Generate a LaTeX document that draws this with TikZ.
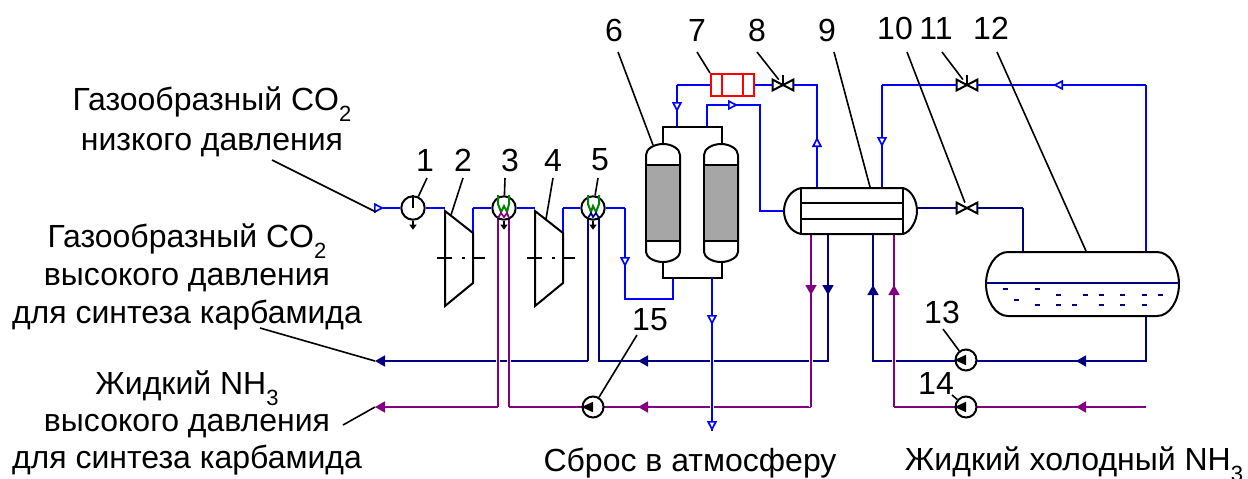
\documentclass[tikz,border=0pt]{standalone}
\usepackage{fontspec}
\setmainfont{Liberation Sans}
\usetikzlibrary{arrows.meta}
\definecolor{pipeblue}{RGB}{0,0,255}
\definecolor{pipenavy}{RGB}{0,0,128}
\definecolor{pipeviolet}{RGB}{128,0,128}
\definecolor{coilgreen}{RGB}{0,128,0}
\tikzset{
  equip/.style={draw=black,line width=1pt,fill=white},
  lead/.style={draw=black,line width=.8pt},
  bluepipe/.style={draw=pipeblue,line width=.85pt},
  navypipe/.style={draw=pipenavy,line width=.85pt},
  violetpipe/.style={draw=pipeviolet,line width=.85pt},
  halo/.style={preaction={draw=white,line width=1.7pt}},
  openarr/.style={-{Triangle[length=5pt,width=5pt,fill=white]}},
  fullarr/.style={-{Triangle[length=5pt,width=5.5pt]}},
  dropout/.style={draw=black,line width=.8pt,-{Triangle[length=2.5pt,width=3.5pt]}},
  numtext/.style={font=\fontsize{16}{18}\selectfont,inner sep=0pt},
  captext/.style={font=\fontsize{16}{20}\selectfont,inner sep=0pt,align=center},
  circ/.style={circle,equip,inner sep=0pt,minimum size=#1}
}
\newcommand{\subidx}[1]{\raisebox{-.65ex}{\fontsize{11}{11}\selectfont #1}}
\newcommand{\valve}[3]{
  \node[inner sep=0pt,minimum width=10pt,minimum height=5pt] (#1) at (#2,#3) {};
  \draw[equip] (#1.north west) -- (#1.south east) -- (#1.north east) -- (#1.south west) -- cycle;
}
\newcommand{\pump}[3]{
  \node[circ=10.5pt] (#1) at (#2,#3) {};
  \fill ([yshift=2.6pt]#1.center) -- ([yshift=-2.6pt]#1.center) -- (#1.west) -- cycle;
}
\begin{document}
\begin{tikzpicture}[x=.5pt,y=-.5pt]
  \useasboundingbox (0,0) rectangle (1248,478);
  % junctions
  \coordinate (inlet) at (375,208);
  \coordinate (inletarr) at (384,208);
  \coordinate (c2in) at (445,208);
  \coordinate (c2out) at (473,233);
  \coordinate (c2up) at (473,208);
  \coordinate (c4in) at (535,208);
  \coordinate (c4out) at (563,233);
  \coordinate (c4up) at (563,208);
  \coordinate (r1) at (625,208);
  \coordinate (r1arr) at (625,267);
  \coordinate (r2) at (625,299);
  \coordinate (r3) at (673,299);
  \coordinate (r4) at (673,278);
  \coordinate (botout) at (712,278);
  \coordinate (botarr) at (712,325);
  \coordinate (botarrb) at (712,431);
  \coordinate (a1) at (677,127);
  \coordinate (a2) at (677,85);
  \coordinate (a2arr) at (677,112);
  \coordinate (b1) at (707,127);
  \coordinate (b2) at (707,105);
  \coordinate (b2arr) at (738,105);
  \coordinate (b3) at (760,105);
  \coordinate (b4) at (760,211);
  \coordinate (hxwest) at (784,211);
  \coordinate (v8r) at (817,85);
  \coordinate (hxtopa) at (817,188);
  \coordinate (v8arr) at (817,137);
  \coordinate (hxtopb) at (882,188);
  \coordinate (c1) at (882,85);
  \coordinate (c1arr) at (882,147);
  \coordinate (d1) at (1146,85);
  \coordinate (d1arr) at (1053,85);
  \coordinate (d2) at (1146,252);
  \coordinate (hxeast) at (917,208);
  \coordinate (e1) at (1023,208);
  \coordinate (e2) at (1023,252);
  \coordinate (f1) at (1146,316);
  \coordinate (f2) at (1146,361);
  \coordinate (f2arr) at (1076,361);
  \coordinate (g1) at (873,234);
  \coordinate (g2) at (873,361);
  \coordinate (g1arr) at (873,285);
  \coordinate (h1) at (894,234);
  \coordinate (h2) at (894,407);
  \coordinate (h1arr) at (894,285);
  \coordinate (k1) at (1146,407);
  \coordinate (k1arr) at (1076,407);
  \coordinate (m1) at (811,234);
  \coordinate (m2) at (811,407);
  \coordinate (m1arr) at (811,295);
  \coordinate (n1) at (828,234);
  \coordinate (n2) at (828,361);
  \coordinate (n1arr) at (828,295);
  \coordinate (hot5a) at (588,218);
  \coordinate (hot5b) at (599,218);
  \coordinate (hot3a) at (498,218);
  \coordinate (hot3b) at (509,218);
  \coordinate (q1) at (588,361);
  \coordinate (q2) at (599,361);
  \coordinate (q2arr) at (638,361);
  \coordinate (co2out) at (375,361);
  \coordinate (s1) at (498,407);
  \coordinate (s2) at (509,407);
  \coordinate (s2arr) at (638,407);
  \coordinate (nh3out) at (375,407);

  % return lines
  \draw[navypipe] (hot5a) -- (q1);
  \draw[navypipe,fullarr] (q1) -- (co2out);
  \draw[navypipe] (n1) -- (n2) -- (q2) -- (hot5b);
  \draw[navypipe,fullarr] (n2) -- (q2arr);
  \draw[navypipe,fullarr] (n1) -- (n1arr);
  \draw[navypipe] (f1) -- (f2) -- (g2) -- (g1);
  \draw[navypipe,fullarr] (f2) -- (f2arr);
  \draw[navypipe,fullarr] (g2) -- (g1arr);

  \draw[violetpipe,halo] (hot3a) -- (s1);
  \draw[violetpipe,fullarr] (s1) -- (nh3out);
  \draw[violetpipe,halo] (hot3b) -- (s2);
  \draw[violetpipe] (s2) -- (m2);
  \draw[violetpipe,fullarr] (m2) -- (s2arr);
  \draw[violetpipe,halo] (m1) -- (m2);
  \draw[violetpipe,fullarr] (m1) -- (m1arr);
  \draw[violetpipe,halo] (h1) -- (h2);
  \draw[violetpipe] (h2) -- (k1);
  \draw[violetpipe,fullarr] (k1) -- (k1arr);
  \draw[violetpipe,fullarr] (h2) -- (h1arr);

  % gas lines
  \draw[bluepipe,halo] (botout) -- (botarrb);
  \draw[bluepipe] (c2up) -- (c2out);
  \draw[bluepipe] (c4up) -- (c4out);
  \draw[bluepipe] (r1) -- (r2) -- (r3) -- (r4);
  \draw[bluepipe] (a1) -- (a2);
  \draw[bluepipe] (b1) -- (b2) -- (b3) -- (b4) -- (hxwest);
  \draw[bluepipe] (c1) -- (hxtopb);
  \draw[bluepipe] (d2) -- (d1);
  \draw[navypipe] (e1) -- (e2);
  \draw[navypipe] (d2) -- (f1);

  % rotating machines and coolers
  \node[circ=11.7pt] (pump1) at (413,208) {};
  \node[circ=11.7pt] (hx3) at (504,208) {};
  \node[circ=11.7pt] (hx5) at (593,208) {};
  \draw[bluepipe] (inlet) -- (pump1);
  \draw[bluepipe] (pump1) -- (c2in);
  \draw[bluepipe] (c2up) -- (hx3);
  \draw[bluepipe] (hx3) -- (c4in);
  \draw[bluepipe] (c4up) -- (hx5);
  \draw[bluepipe] (hx5) -- (r1);
  \draw[draw=black,line width=.8pt] (pump1.center) -- (pump1.north);
  \draw[dropout] (pump1.south) -- ++(0,9);
  \draw[dropout] (hx3.south) -- ++(0,9);
  \draw[dropout] (hx5.south) -- ++(0,9);
  \draw[draw=coilgreen,line width=1pt] (498,195) -- (498,204) -- (501,212) -- (504,206) -- (507,212) -- (509,204) -- (509,195);
  \draw[draw=coilgreen,line width=1pt] (588,195) -- (588,204) -- (591,212) -- (593,206) -- (596,212) -- (599,204) -- (599,195);
  \draw[violetpipe] (hot3a) -- (501,213) -- (504,217) -- (507,213) -- (hot3b);
  \draw[navypipe] (hot5a) -- (591,213) -- (593,217) -- (596,213) -- (hot5b);
  \draw[equip] (445,211) -- (473,233) -- (473,283) -- (445,306) -- cycle;
  \draw[equip] (535,211) -- (563,233) -- (563,283) -- (535,306) -- cycle;
  \draw[draw=black,line width=.8pt] (437,258) -- (452,258) (461.5,258) -- (464.5,258) (473,258) -- (485,258);
  \draw[draw=black,line width=.8pt] (527,258) -- (542,258) (551.5,258) -- (554.5,258) (563,258) -- (575,258);

  % columns
  \draw[equip] (663,144) -- (663,127) -- (722,127) -- (722,144);
  \draw[equip] (663,262) -- (663,278) -- (722,278) -- (722,262);
  \draw[equip] (646,252) -- (646,155) .. controls (646,149) and (654,144) .. (663,144) .. controls (672,144) and (680,149) .. (680,155) -- (680,252) .. controls (680,257) and (672,262) .. (663,262) .. controls (654,262) and (646,257) .. (646,252) -- cycle;
  \draw[equip] (704,252) -- (704,155) .. controls (704,149) and (712,144) .. (721,144) .. controls (730,144) and (738,149) .. (738,155) -- (738,252) .. controls (738,257) and (730,262) .. (721,262) .. controls (712,262) and (704,257) .. (704,252) -- cycle;
  \draw[equip,fill=black!35] (646,165) rectangle (680,241);
  \draw[equip,fill=black!35] (704,165) rectangle (738,241);

  % burner, valves
  \node[draw=red,line width=1pt,fill=white,inner sep=0pt,minimum width=21.5pt,minimum height=11pt] (box7) at (732.5,85) {};
  \draw[draw=red,line width=1pt] (722,74.5) -- (722,95.5) (743,74.5) -- (743,95.5);
  \draw[bluepipe] (a2) -- (box7);
  \valve{v8}{783}{85}
  \valve{v11}{967}{85}
  \valve{v10}{967}{208}
  \draw[draw=black,line width=.8pt] (v8.center) -- ++(0,-10);
  \draw[draw=black,line width=.8pt] (v11.center) -- ++(0,-10);
  \draw[bluepipe] (box7) -- (v8);
  \draw[bluepipe] (v8) -- (v8r) -- (hxtopa);
  \draw[bluepipe] (c1) -- (v11);
  \draw[bluepipe] (v11) -- (d1);
  \draw[navypipe] (hxeast) -- (v10);
  \draw[navypipe] (v10) -- (e1);

  % open arrowheads
  \draw[bluepipe,openarr] (inlet) -- (inletarr);
  \draw[bluepipe,openarr] (botout) -- (botarr);
  \draw[bluepipe,openarr] (botarr) -- (botarrb);
  \draw[bluepipe,openarr] (r1) -- (r1arr);
  \draw[bluepipe,openarr] (a2) -- (a2arr);
  \draw[bluepipe,openarr] (b2) -- (b2arr);
  \draw[bluepipe,openarr] (hxtopa) -- (v8arr);
  \draw[bluepipe,openarr] (c1) -- (c1arr);
  \draw[bluepipe,openarr] (d1) -- (d1arr);

  % heat exchanger 9
  \draw[equip] (801,188) .. controls (791,190) and (784,200) .. (784,211) .. controls (784,222) and (791,232) .. (801,234) -- (903,234) .. controls (911,232) and (917,220) .. (917,211) .. controls (917,200) and (911,190) .. (903,188) -- cycle;
  \draw[equip,line width=1.2pt] (801,188) -- (801,234) (903,188) -- (903,234);
  \draw[draw=black,line width=1.2pt] (801,203) -- (903,203) (801,219) -- (903,219);

  % drum 12
  \draw[equip] (1008,252) .. controls (995,252) and (986,268) .. (986,284) .. controls (986,300) and (995,316) .. (1008,316) -- (1157,316) .. controls (1170,316) and (1179,300) .. (1179,284) .. controls (1179,268) and (1170,252) .. (1157,252) -- cycle;
  \draw[navypipe,line width=.7pt] (986,283) -- (1179,283);
  \foreach \dx/\dy in {1005/289,1037/289,1016/300,1058/295,1085/295,1101/295,1122/295,1144/295,1160/295,1037/305,1058/305,1074/305,1101/305,1122/305,1144/305}
    \draw[navypipe] (\dx-2.5,\dy) -- (\dx+2.5,\dy);

  % pumps
  \pump{p13}{966}{360}
  \pump{p14}{966}{407}
  \pump{p15}{593}{407}

  % numbers
  \node[numtext] (t1) at (425,160) {1};
  \node[numtext] (t2) at (463,160) {2};
  \node[numtext] (t3) at (510,160) {3};
  \node[numtext] (t4) at (553,160) {4};
  \node[numtext] (t5) at (600,160) {5};
  \node[numtext] (t6) at (614,30) {6};
  \node[numtext] (t7) at (697,30) {7};
  \node[numtext] (t8) at (757,30) {8};
  \node[numtext] (t9) at (827,30) {9};
  \node[numtext] (t10) at (895,28) {10};
  \node[numtext] (t11) at (936,28) {11};
  \node[numtext] (t12) at (991,28) {12};
  \node[numtext] (t13) at (942,312) {13};
  \node[numtext] (t14) at (936,383) {14};
  \node[numtext] (t15) at (650,320) {15};

  % leaders
  \coordinate (l1) at (427,178);
  \coordinate (l2) at (463,178);
  \coordinate (l3) at (505,178);
  \coordinate (l4) at (553,178);
  \coordinate (l5) at (598,178);
  \coordinate (l6) at (618,52);
  \coordinate (l7) at (697,52);
  \coordinate (l8) at (757,52);
  \coordinate (l9) at (834,52);
  \coordinate (l10) at (907,52);
  \coordinate (l11) at (942,52);
  \coordinate (l12) at (997,52);
  \coordinate (l13) at (943,329);
  \coordinate (l14) at (952,395);
  \coordinate (l15) at (637,335);
  \draw[lead] (l1) -- (pump1);
  \draw[lead] (l2) -- (451,215);
  \draw[lead] (l3) -- (hx3);
  \draw[lead] (l4) -- (546,219);
  \draw[lead] (l5) -- (hx5);
  \draw[lead] (l6) -- (653,145);
  \draw[lead] (l7) -- (box7.north west);
  \draw[lead] (l8) -- (v8);
  \draw[lead] (l9) -- (870,187);
  \draw[lead] (l10) -- (v10);
  \draw[lead] (l11) -- (v11);
  \draw[lead] (l12) -- (1086,251);
  \draw[lead] (l13) -- (p13);
  \draw[lead] (l14) -- (p14);
  \draw[lead] (l15) -- (p15);

  % captions
  \node[captext] (gaslow) at (212,122) {Газообразный CO\subidx{2}\\низкого давления};
  \node[captext,font=\fontsize{16}{19}\selectfont] (gashigh) at (187,277) {Газообразный CO\subidx{2}\\высокого давления\\для синтеза карбамида};
  \node[captext,font=\fontsize{16}{18.5}\selectfont] (nh3high) at (187,423) {Жидкий NH\subidx{3}\\высокого давления\\для синтеза карбамида};
  \node[captext] (vent) at (690,463) {Сброс в атмосферу};
  \node[captext] (nh3cold) at (1074,464) {Жидкий холодный NH\subidx{3}};
  \coordinate (lowlead) at (272,160);
  \coordinate (highlead) at (260,328);
  \coordinate (nh3lead) at (343,425);
  \coordinate (inletlead) at (376,212);
  \draw[lead] (lowlead) -- (inletlead);
  \draw[lead] (highlead) -- (co2out);
  \draw[lead] (nh3lead) -- (nh3out);
\end{tikzpicture}
\end{document}
